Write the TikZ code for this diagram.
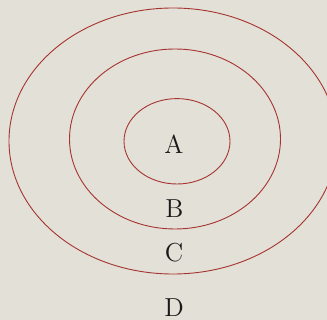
\documentclass[tikz,border=0pt]{standalone}
\usepackage{xcolor}
\usepackage{tikz}
\usetikzlibrary{shapes.geometric}

\definecolor{paper}{RGB}{227,224,216}
\definecolor{ringred}{RGB}{165,52,46}

\begin{document}
\begin{tikzpicture}[x=0.5pt,y=-0.5pt,
    ring/.style={ellipse, draw=ringred, line width=0.45pt, inner sep=0pt},
    lbl/.style={font=\fontsize{13}{15}\selectfont, text=black!90}]
        \fill[paper] (0,0) rectangle (327,320);
        \useasboundingbox (0,0) rectangle (327,320);
        \clip (0,0) rectangle (327,320);
        % rings
        \node[ring, minimum width=164pt, minimum height=133pt] (outer) at (173,141) {};
        \node[ring, minimum width=105.5pt, minimum height=90pt] (middle) at (175,139) {};
        \node[ring, minimum width=53pt, minimum height=42.7pt] (inner) at (177,141.3) {};
        % labels
        \node[lbl] (a) at (174,144) {A};
        \node[lbl] (b) at (174.5,209) {B};
        \node[lbl] (c) at (174,253) {C};
        \node[lbl] (d) at (174,307.5) {D};
    \end{tikzpicture}
\end{document}
